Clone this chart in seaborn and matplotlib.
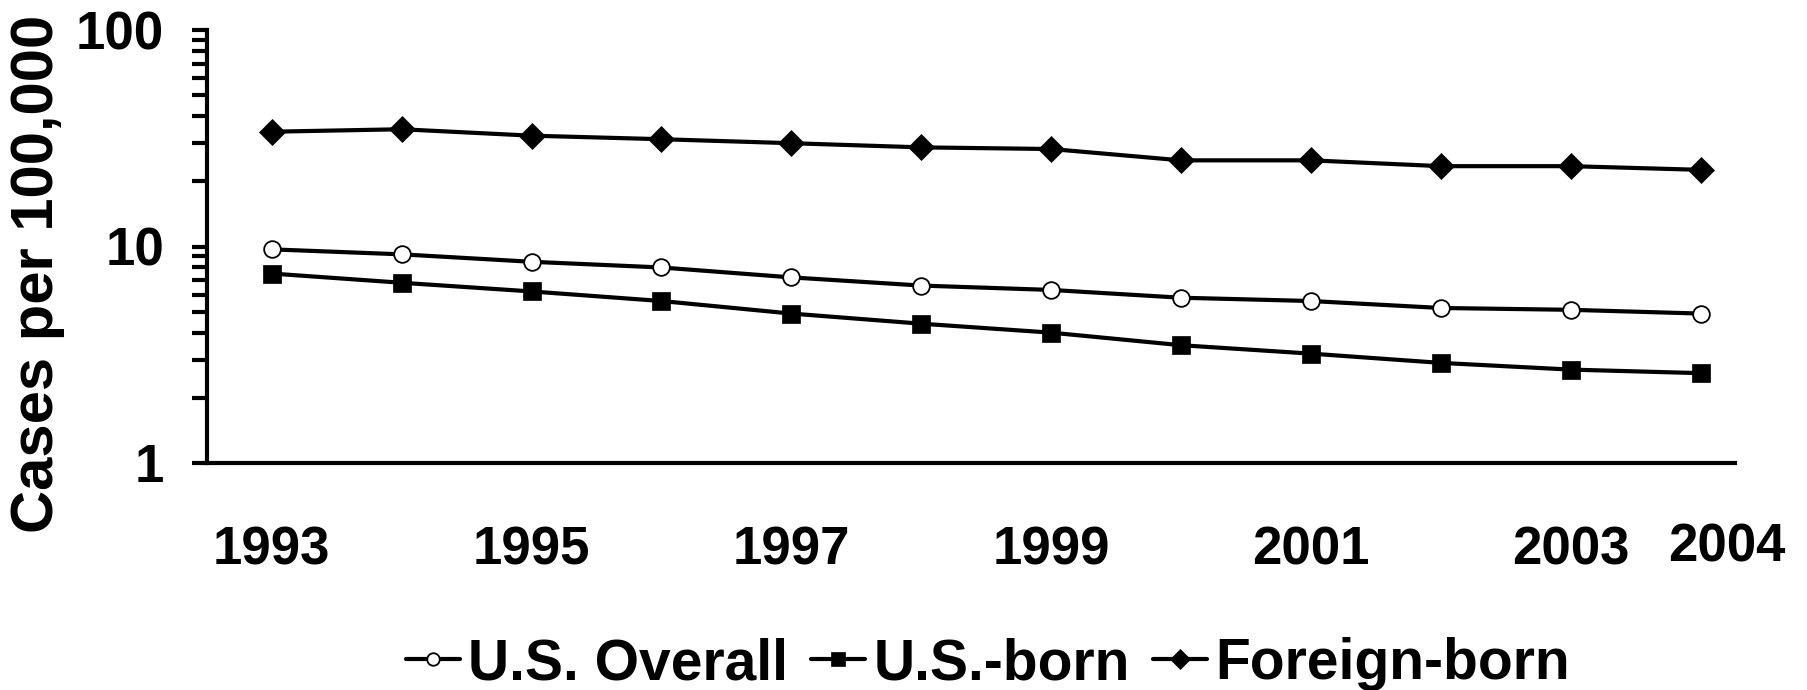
import matplotlib
matplotlib.use("Agg")
import matplotlib.pyplot as plt
import seaborn as sns
import pandas as pd
from matplotlib.ticker import FixedLocator, LogLocator, NullFormatter, FixedFormatter

years = [1993, 1994, 1995, 1996, 1997, 1998, 1999, 2000, 2001, 2002, 2003, 2004]
us_overall = [9.7, 9.2, 8.5, 8.0, 7.2, 6.6, 6.3, 5.8, 5.6, 5.2, 5.1, 4.9]
us_born = [7.5, 6.8, 6.2, 5.6, 4.9, 4.4, 4.0, 3.5, 3.2, 2.9, 2.7, 2.6]
foreign_born = [33.9, 34.8, 32.5, 31.3, 30.0, 28.7, 28.2, 25.0, 25.0, 23.5, 23.5, 22.6]
series_names = ["U.S. Overall", "U.S.-born", "Foreign-born"]
xtick_years = [1993, 1995, 1997, 1999, 2001, 2003]
extra_tick_year = 2004
ytick_values = [1, 10, 100]
ytick_labels = ["1", "10", "100"]
ylabel = "Cases per 100,000"

sns.set_style("white")
plt.rcParams["font.family"] = ["Liberation Sans", "DejaVu Sans"]
plt.rcParams["font.weight"] = "bold"
for k in ["text.color", "axes.labelcolor", "xtick.color", "ytick.color", "axes.edgecolor"]:
    plt.rcParams[k] = "black"

fig = plt.figure(figsize=(18.08, 6.90), dpi=100)
ax = fig.add_axes([207 / 1808, 1 - 463 / 690, (1735 - 207) / 1808, (463 - 30) / 690])

df = pd.DataFrame({"year": years, "overall": us_overall, "usborn": us_born, "foreign": foreign_born})

lw = 3.0
sns.lineplot(data=df, x="year", y="overall", ax=ax, color="black", linewidth=lw,
             marker="o", markersize=12, markerfacecolor="white", markeredgecolor="black",
             markeredgewidth=1.3, label=series_names[0])
sns.lineplot(data=df, x="year", y="usborn", ax=ax, color="black", linewidth=lw,
             marker="s", markersize=12.5, markerfacecolor="black", markeredgecolor="black",
             markeredgewidth=0.5, label=series_names[1])
sns.lineplot(data=df, x="year", y="foreign", ax=ax, color="black", linewidth=lw,
             marker="D", markersize=13.5, markerfacecolor="black", markeredgecolor="black",
             markeredgewidth=0.5, label=series_names[2])

ax.set_yscale("log")
ax.set_ylim(1, 100)
ax.set_xlim(1992.502, 2004.264)

ax.yaxis.set_major_locator(FixedLocator(ytick_values))
ax.yaxis.set_major_formatter(FixedFormatter(ytick_labels))
ax.yaxis.set_minor_locator(LogLocator(base=10, subs=range(2, 10)))
ax.yaxis.set_minor_formatter(NullFormatter())

ax.set_xticks(xtick_years)
ax.set_xticklabels([str(y) for y in xtick_years])
ax.set_xlabel("")
ax.set_ylabel("")

for s in ["top", "right"]:
    ax.spines[s].set_visible(False)
for s in ["left", "bottom"]:
    ax.spines[s].set_linewidth(3)
    ax.spines[s].set_color("black")

ax.tick_params(axis="y", which="both", direction="out", left=True, length=10.8, width=3,
               color="black", pad=20, labelsize=38, labelcolor="black")
ax.tick_params(axis="x", which="both", bottom=True, length=0, pad=45, labelsize=38,
               labelcolor="black")
for lab in ax.get_xticklabels() + ax.get_yticklabels():
    lab.set_fontweight("bold")

ax.annotate(str(extra_tick_year), xy=(extra_tick_year, 0), xycoords=("data", "axes fraction"),
            xytext=(26, -85), textcoords="offset pixels", ha="center", va="center",
            fontsize=38, fontweight="bold", color="black")

fig.text(38 / 1808, 1 - 273.5 / 690, ylabel, rotation=90, ha="center", va="center",
         fontsize=43, fontweight="bold", color="black")

ax.get_legend().remove()
handles, labels = ax.get_legend_handles_labels()
fig.legend(handles, labels, loc="center", bbox_to_anchor=(988 / 1808, 1 - 664 / 690),
           ncol=3, frameon=False, handlelength=0.95, handletextpad=0.15,
           columnspacing=0.4, markerscale=0.75, borderaxespad=0, borderpad=0,
           prop={"weight": "bold", "size": 41}, labelcolor="black")

fig.savefig("out.png", dpi=100, facecolor="white")
